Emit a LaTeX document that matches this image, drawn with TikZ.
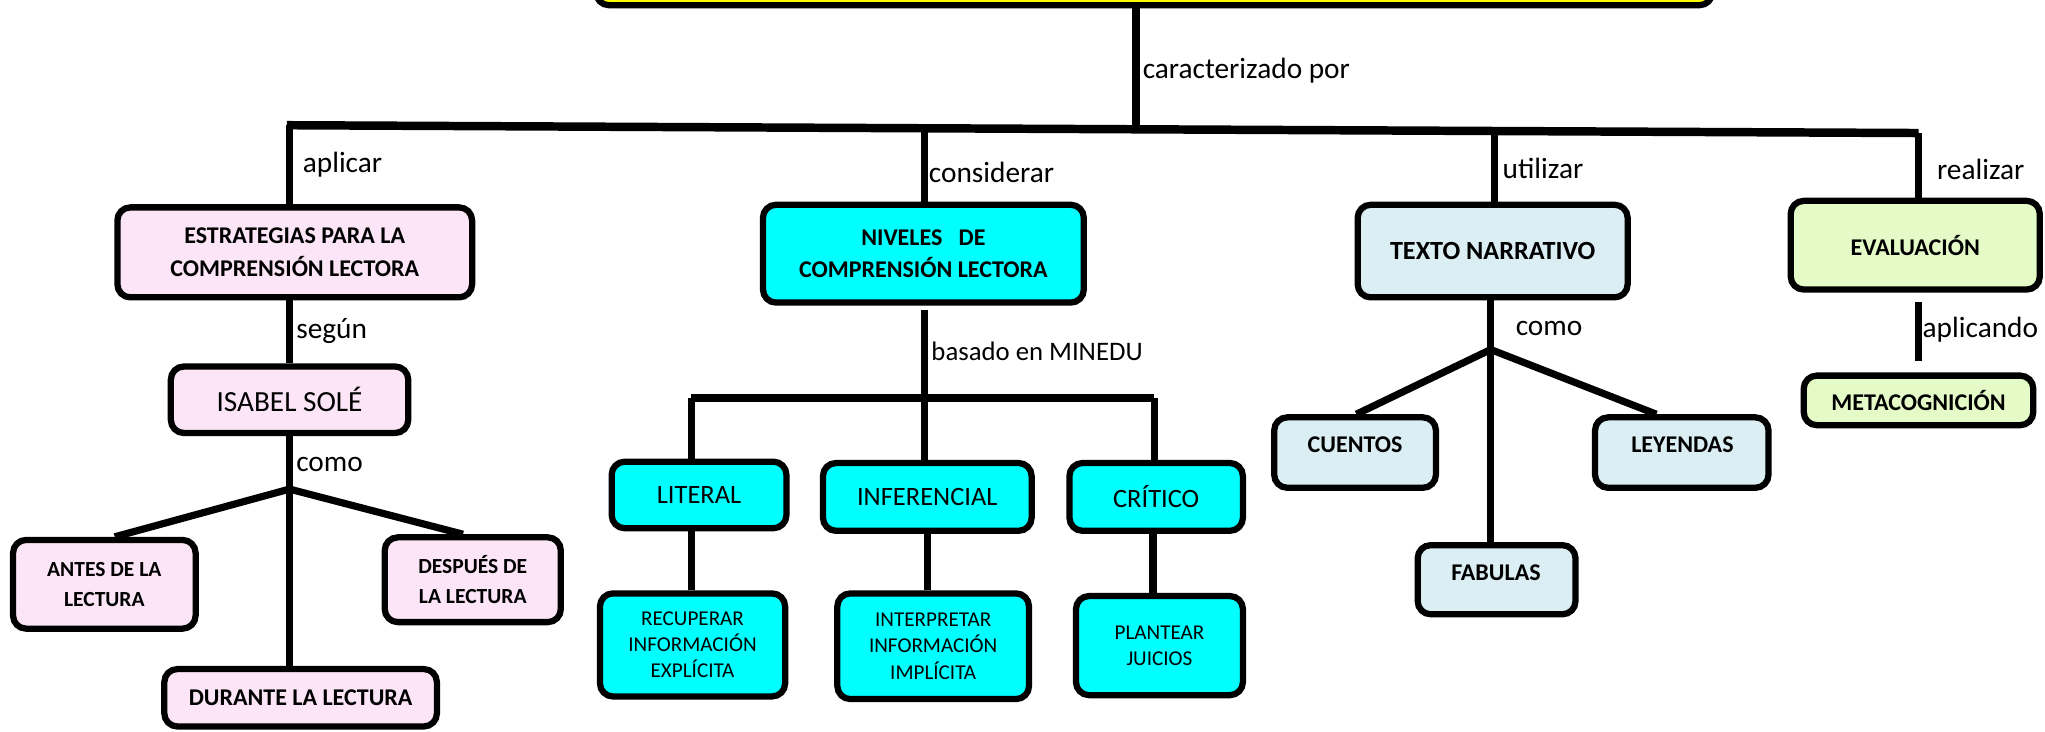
\documentclass[tikz,border=0pt]{standalone}
\usepackage{fontspec}
\setmainfont{Carlito}
\definecolor{pinkbox}{RGB}{251,229,246}
\definecolor{cyanbox}{RGB}{0,255,255}
\definecolor{bluebox}{RGB}{218,238,243}
\definecolor{greenbox}{RGB}{228,251,200}
\definecolor{yellowbox}{RGB}{255,255,0}
\tikzset{
  cbox/.style={draw=black, line width=4.8pt, rounded corners=10pt, align=center, inner sep=0pt},
  bigbold/.style={font=\fontsize{18.4}{25}\selectfont\bfseries},
  smallbold/.style={font=\fontsize{16.5}{23}\selectfont\bfseries},
  regtext/.style={font=\fontsize{20.3}{25}\selectfont},
  tinytext/.style={font=\fontsize{16.2}{20}\selectfont},
  lbl/.style={anchor=west, inner sep=0pt, font=\fontsize{22.5}{27}\selectfont},
  conn/.style={draw=black, line width=5.5pt},
  bar/.style={draw=black, line width=6.5pt},
}
\begin{document}
\begin{tikzpicture}[x=1pt,y=-1pt]
\useasboundingbox (0,0) rectangle (1568,560.5);
\begin{scope}
\clip (0,0) rectangle (1568,560.5);
\node[cbox, fill=yellowbox, minimum width=856pt, minimum height=80pt] (title) at (885,-36) {};
\end{scope}

% level 1 boxes
\node[cbox, fill=pinkbox, bigbold, minimum width=272pt, minimum height=69pt] (estr) at (226,193.5) {ESTRATEGIAS PARA LA\\COMPRENSIÓN LECTORA};
\node[cbox, fill=cyanbox, bigbold, minimum width=246pt, minimum height=75pt] (niv) at (708,194.5) {NIVELES~~~DE\\COMPRENSIÓN LECTORA};
\node[cbox, fill=bluebox, font=\fontsize{20.1}{25}\selectfont\bfseries, minimum width=207pt, minimum height=71pt] (texto) at (1144.5,192.5) {TEXTO NARRATIVO};
\node[cbox, fill=greenbox, bigbold, minimum width=191pt, minimum height=68pt] (eva) at (1468.5,188) {EVALUACIÓN};

% left branch
\node[cbox, fill=pinkbox, font=\fontsize{22.4}{27}\selectfont, minimum width=182pt, minimum height=51pt] (isabel) at (222,306.5) {ISABEL SOLÉ};
\node[cbox, fill=pinkbox, smallbold, minimum width=140pt, minimum height=68pt] (antes) at (80,448) {ANTES DE LA\\LECTURA};
\node[cbox, fill=pinkbox, smallbold, minimum width=135pt, minimum height=65pt] (despues) at (362.5,444.5) {DESPUÉS DE\\LA LECTURA};
\node[cbox, fill=pinkbox, bigbold, minimum width=209pt, minimum height=44pt] (durante) at (230.5,535) {DURANTE LA LECTURA};

% middle branch
\node[cbox, fill=cyanbox, regtext, minimum width=134pt, minimum height=51pt] (lit) at (536,379.5) {LITERAL};
\node[cbox, fill=cyanbox, regtext, minimum width=160pt, minimum height=52pt] (inf) at (711,381) {INFERENCIAL};
\node[cbox, fill=cyanbox, regtext, minimum width=133pt, minimum height=52pt] (cri) at (886.5,381) {CRÍTICO};
\node[cbox, fill=cyanbox, tinytext, minimum width=142pt, minimum height=79pt] (recu) at (531,494.5) {RECUPERAR\\INFORMACIÓN\\EXPLÍCITA};
\node[cbox, fill=cyanbox, tinytext, minimum width=147pt, minimum height=81pt] (inter) at (715.5,495.5) {INTERPRETAR\\INFORMACIÓN\\IMPLÍCITA};
\node[cbox, fill=cyanbox, tinytext, minimum width=128pt, minimum height=76pt] (plan) at (889,495) {PLANTEAR\\JUICIOS};

% narrative branch
\node[cbox, fill=bluebox, minimum width=124pt, minimum height=54pt] (cuentos) at (1039,347) {};
\node[bigbold, inner sep=0pt] (cuentost) at (1039,341) {CUENTOS};
\node[cbox, fill=bluebox, minimum width=133pt, minimum height=54pt] (leyendas) at (1289.5,347) {};
\node[bigbold, inner sep=0pt] (leyendast) at (1290,341) {LEYENDAS};
\node[cbox, fill=bluebox, minimum width=121pt, minimum height=53pt] (fabulas) at (1147.5,444.5) {};
\node[bigbold, inner sep=0pt] (fabulast) at (1147,439) {FABULAS};

% evaluation branch
\node[cbox, fill=greenbox, bigbold, minimum width=176pt, minimum height=38pt] (meta) at (1471,307) {METACOGNICIÓN};

% coordinates
\coordinate (hub) at (871,97.5);
\coordinate (bl) at (220,96);
\coordinate (br) at (1471,102);
\coordinate (d1) at (222,96);
\coordinate (d2) at (709,98.3);
\coordinate (d3) at (1146,100.4);
\coordinate (d4) at (1471,102);
\coordinate (jl) at (222,375);
\coordinate (mb) at (709,305);
\coordinate (mbl) at (530,305);
\coordinate (mbr) at (885,305);
\coordinate (jr) at (1143,268);

% connectors
\draw[conn] (title.south -| hub) -- (hub);
\draw[bar] (bl) -- (br);
\draw[conn] (d1) -- (d1 |- estr.north);
\draw[conn] (d2) -- (d2 |- niv.north);
\draw[conn] (d3) -- (d3 |- texto.north);
\draw[conn] (d4) -- (d4 |- eva.north);

\draw[conn] (estr.south -| d1) -- (isabel.north -| d1);
\draw[conn] (isabel.south -| d1) -- (jl);
\draw[conn] (jl) -- (antes.north -| 88,0);
\draw[conn] (jl) -- (despues.north -| 355,0);
\draw[conn] (jl) -- (durante.north -| jl);

\draw[conn, shorten <=3pt] (niv.south -| d2) -- (mb);
\draw[bar] (mbl) -- (mbr);
\draw[conn] (mbl) -- (lit.north -| mbl);
\draw[conn] (mb) -- (inf.north -| mb);
\draw[conn] (mbr) -- (cri.north -| mbr);
\draw[conn] (lit.south -| mbl) -- (recu.north -| mbl);
\draw[conn] (inf.south) -- (inf.south |- inter.north);
\draw[conn] (cri.south -| 884,0) -- (plan.north -| 884,0);

\draw[conn] (texto.south -| jr) -- (jr);
\draw[conn] (jr) -- (cuentos.north -| 1040,0);
\draw[conn] (jr) -- (leyendas.north -| 1270,0);
\draw[conn] (jr) -- (fabulas.north -| jr);

\draw[conn, shorten <=7pt, shorten >=9pt] (eva.south -| d4) -- (meta.north -| d4);

% labels
\node[lbl] (l0) at (876,54) {caracterizado por};
\node[lbl] (l1) at (232,126) {aplicar};
\node[lbl] (l2) at (712,132) {considerar};
\node[lbl] (l3) at (1152,129) {utilizar};
\node[lbl] (l4) at (1485,130) {realizar};
\node[lbl] (l5) at (227,254) {según};
\node[lbl] (l6) at (227,356) {como};
\node[lbl, font=\fontsize{20.5}{25}\selectfont] (l7) at (714,269) {basado en MINEDU};
\node[lbl] (l8) at (1162,252) {como};
\node[lbl] (l9) at (1474,253) {aplicando};
\end{tikzpicture}
\end{document}
